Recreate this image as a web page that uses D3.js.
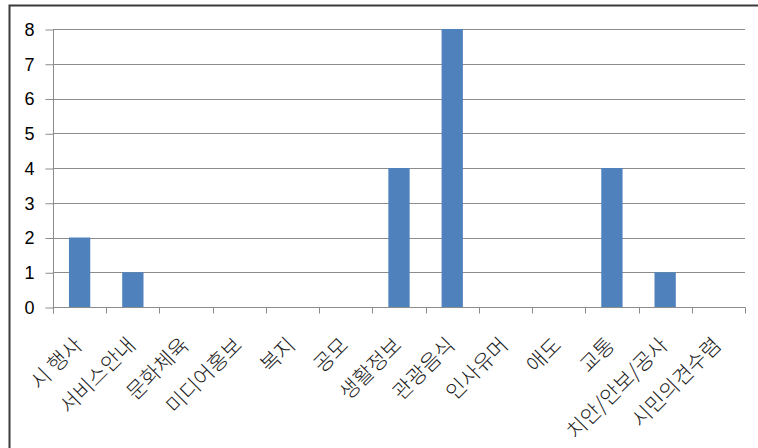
<!DOCTYPE html>
<html>
<head>
<meta charset="utf-8">
<script src="https://cdn.jsdelivr.net/npm/d3@7"></script>
<style>
  html, body { margin: 0; padding: 0; background: #fff; }
  svg { display: block; }
</style>
</head>
<body>
<svg id="chart" width="758" height="448"></svg>
<script>
// Post counts per category
const categories = ["시 행사", "서비스안내", "문화체육", "미디어홍보", "복지", "공모",
  "생활정보", "관광음식", "인사유머", "애도", "교통", "치안/안보/공사", "시민의견수렴"];
const counts = [2, 1, 0, 0, 0, 0, 4, 8, 0, 0, 4, 1, 0];
const yTicks = [0, 1, 2, 3, 4, 5, 6, 7, 8];

const svg = d3.select("#chart");
const plot = { left: 53, right: 745, top: 29, bottom: 307 };

// Outer chart frame
svg.append("rect")
  .attr("x", 9.5).attr("y", 5.5)
  .attr("width", 760).attr("height", 460)
  .attr("fill", "none").attr("stroke", "#3a3a3a").attr("stroke-width", 2);

const x = d3.scaleBand().domain(categories).range([plot.left, plot.right]).paddingInner(0).paddingOuter(0);
const y = d3.scaleLinear().domain([0, 8]).range([plot.bottom, plot.top]);

// Horizontal gridlines
svg.append("g").selectAll("line").data(yTicks.filter(d => d > 0)).join("line")
  .attr("x1", plot.left).attr("x2", plot.right)
  .attr("y1", d => Math.round(y(d)) + 0.5).attr("y2", d => Math.round(y(d)) + 0.5)
  .attr("stroke", "#8c8c8c").attr("stroke-width", 1);

// Bars: width is 1/2.5 of the band (gap width 150%)
const barW = x.bandwidth() / 2.5;
svg.append("g").selectAll("rect").data(categories).join("rect")
  .attr("x", d => x(d) + (x.bandwidth() - barW) / 2)
  .attr("width", barW)
  .attr("y", (d, i) => y(counts[i]))
  .attr("height", (d, i) => y(0) - y(counts[i]))
  .attr("fill", "#4f81bd");

// Y axis
const yAxis = d3.axisLeft(y).tickValues(yTicks).tickSize(8).tickPadding(11).tickFormat(d3.format("d"));
const gy = svg.append("g").attr("transform", `translate(${plot.left + 0.5},0.5)`).call(yAxis);
gy.select(".domain").attr("stroke", "#8c8c8c").attr("d", `M0,${plot.top}V${plot.bottom + 6}`);
gy.selectAll(".tick line").attr("stroke", "#8c8c8c");
gy.selectAll(".tick text")
  .attr("font-family", "'Liberation Sans', Arial, sans-serif")
  .attr("font-size", 18).attr("fill", "#000");

// X axis: ticks on band boundaries
const gx = svg.append("g").attr("transform", `translate(0,${plot.bottom + 0.5})`);
gx.append("line").attr("x1", plot.left).attr("x2", plot.right + 0.5)
  .attr("stroke", "#8c8c8c");
const bounds = categories.map(d => x(d)).concat([plot.right]);
gx.selectAll("line.tk").data(bounds).join("line").attr("class", "tk")
  .attr("x1", d => Math.round(d) + 0.5).attr("x2", d => Math.round(d) + 0.5)
  .attr("y1", 0).attr("y2", 6).attr("stroke", "#8c8c8c");

// Rotated category labels
gx.selectAll("text").data(categories).join("text")
  .attr("transform", d => `translate(${x(d) + x.bandwidth() / 2 + 4},${39}) rotate(-45)`)
  .attr("text-anchor", "end")
  .attr("font-family", "'Noto Sans CJK KR', sans-serif")
  .attr("font-weight", 300)
  .attr("font-size", 21)
  .attr("fill", "#1a1a1a")
  .text(d => d);
</script>
</body>
</html>
